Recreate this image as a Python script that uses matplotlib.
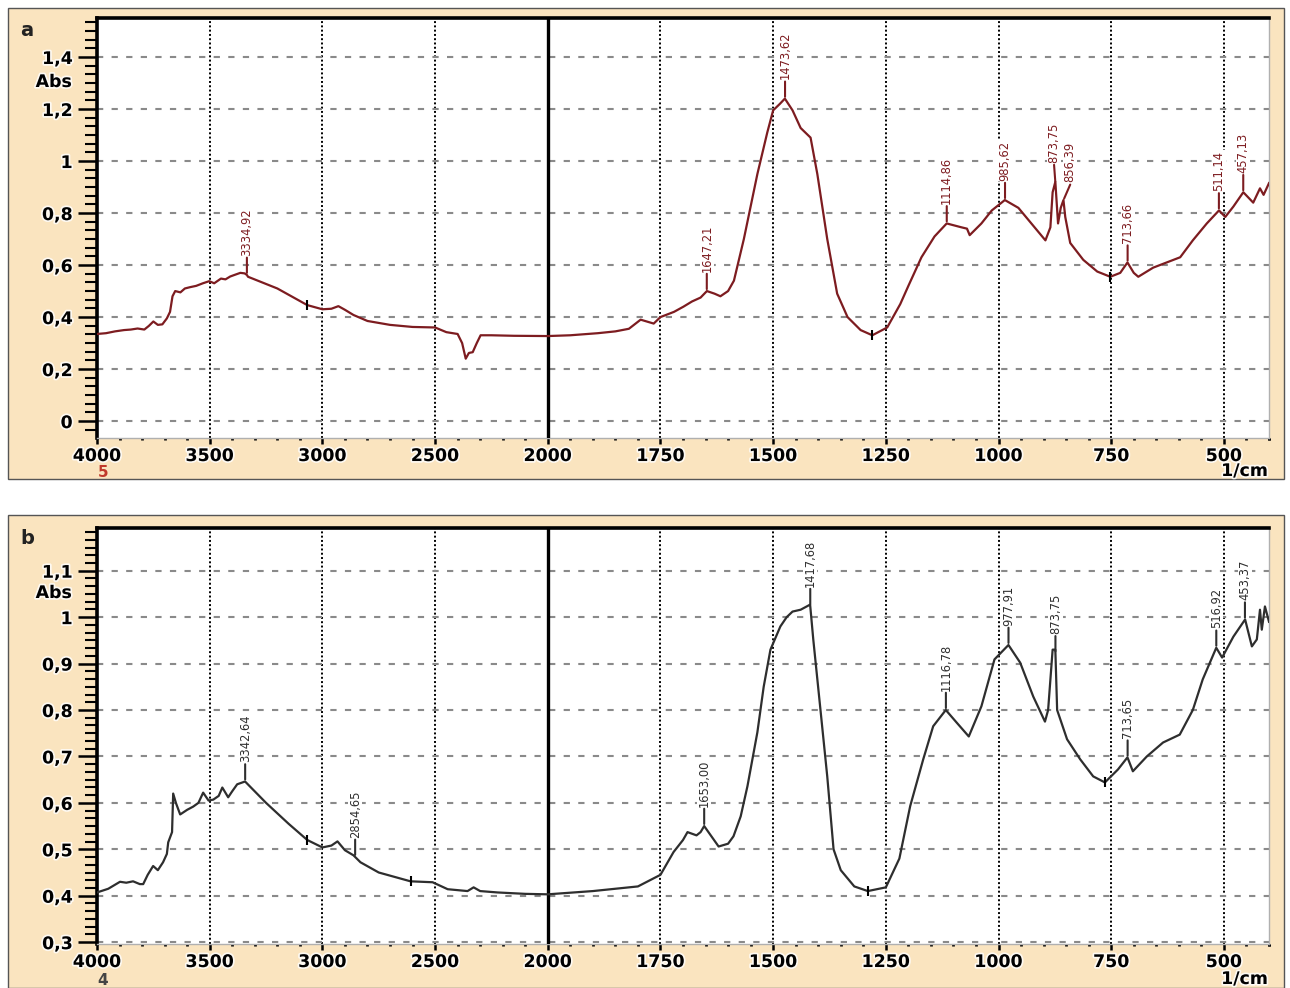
import numpy as np
import matplotlib
matplotlib.use("Agg")
import matplotlib.pyplot as plt
import matplotlib.patheffects as pe
from matplotlib.patches import Rectangle
from matplotlib.ticker import FixedLocator, MultipleLocator, FuncFormatter

# spectrum a (wavenumber 1/cm, absorbance)
wn_a = [4000, 3960, 3920, 3880, 3850, 3820, 3790, 3770, 3750, 3730, 3710, 3690,
        3676, 3665, 3653, 3630, 3610, 3587, 3560, 3530, 3502, 3480, 3450, 3430,
        3409, 3390, 3364, 3345, 3335, 3330, 3200, 3067, 3000, 2960, 2929, 2900,
        2862, 2800, 2700, 2600, 2500, 2450, 2400, 2380, 2364, 2350, 2333, 2315,
        2298, 2250, 2150, 2000, 1950, 1889, 1850, 1820, 1794, 1765, 1750, 1720,
        1699, 1680, 1661, 1647, 1630, 1617, 1600, 1587, 1565, 1535, 1513, 1500,
        1485, 1474, 1457, 1439, 1417, 1402, 1380, 1358, 1335, 1306, 1280, 1247,
        1218, 1200, 1171, 1142, 1115, 1082, 1070, 1064, 1038, 1015, 986, 956,
        920, 896, 885, 880, 874, 868, 862, 856, 852, 841, 812, 781, 752, 730,
        714, 700, 690, 657, 597, 569, 538, 511, 497, 479, 457, 435, 420, 412, 400]
abs_a = [0.335, 0.338, 0.345, 0.350, 0.352, 0.356, 0.352, 0.366, 0.383, 0.370, 0.372, 0.395,
         0.420, 0.480, 0.500, 0.495, 0.510, 0.515, 0.520, 0.530, 0.538, 0.530, 0.548, 0.545,
         0.556, 0.562, 0.570, 0.568, 0.562, 0.555, 0.510, 0.446, 0.430, 0.432, 0.442, 0.428,
         0.408, 0.385, 0.370, 0.362, 0.360, 0.342, 0.335, 0.300, 0.240, 0.262, 0.265, 0.300,
         0.330, 0.330, 0.328, 0.327, 0.330, 0.338, 0.345, 0.355, 0.390, 0.375, 0.400, 0.420,
         0.440, 0.460, 0.475, 0.500, 0.490, 0.480, 0.500, 0.540, 0.700, 0.950, 1.110, 1.195,
         1.220, 1.240, 1.195, 1.127, 1.090, 0.950, 0.700, 0.490, 0.400, 0.350, 0.330, 0.360,
         0.450, 0.520, 0.630, 0.710, 0.760, 0.745, 0.740, 0.715, 0.760, 0.810, 0.850, 0.820,
         0.745, 0.695, 0.745, 0.880, 0.920, 0.760, 0.820, 0.850, 0.785, 0.685, 0.620, 0.575,
         0.555, 0.570, 0.610, 0.570, 0.555, 0.590, 0.630, 0.695, 0.760, 0.810, 0.785, 0.825,
         0.880, 0.840, 0.895, 0.870, 0.915]
peaks_a = [3334.92, 1647.21, 1473.62, 1114.86, 985.62, 873.75, 856.39, 713.66, 511.14, 457.13]
marks_a = [3067, 1280, 752]

# spectrum b
wn_b = [4000, 3950, 3898, 3870, 3840, 3810, 3795, 3775, 3751, 3730, 3707, 3690,
        3684, 3667, 3662, 3650, 3631, 3600, 3573, 3550, 3529, 3505, 3484, 3460,
        3444, 3418, 3400, 3378, 3343, 3250, 3150, 3067, 3000, 2960, 2933, 2900,
        2862, 2831, 2750, 2609, 2511, 2444, 2356, 2329, 2300, 2222, 2100, 2000,
        1900, 1800, 1750, 1721, 1700, 1690, 1670, 1661, 1653, 1621, 1600, 1588,
        1572, 1557, 1535, 1521, 1506, 1484, 1470, 1457, 1439, 1418, 1411, 1395,
        1380, 1366, 1350, 1320, 1290, 1250, 1220, 1196, 1167, 1145, 1117, 1093,
        1066, 1038, 1009, 978, 952, 923, 897, 890, 880, 874, 870, 848, 819, 790,
        764, 735, 714, 702, 671, 635, 598, 569, 547, 517, 504, 479, 453, 438,
        427, 420, 416, 409, 400]
abs_b = [0.407, 0.415, 0.430, 0.428, 0.431, 0.425, 0.425, 0.445, 0.464, 0.455, 0.472, 0.490,
         0.515, 0.537, 0.620, 0.600, 0.575, 0.585, 0.592, 0.600, 0.622, 0.605, 0.607, 0.615,
         0.633, 0.612, 0.625, 0.640, 0.646, 0.600, 0.555, 0.520, 0.504, 0.508, 0.517, 0.498,
         0.487, 0.472, 0.450, 0.431, 0.429, 0.414, 0.410, 0.418, 0.410, 0.407, 0.404, 0.403,
         0.410, 0.420, 0.445, 0.494, 0.520, 0.537, 0.530, 0.537, 0.550, 0.506, 0.512, 0.528,
         0.571, 0.636, 0.752, 0.850, 0.930, 0.980, 1.000, 1.012, 1.016, 1.027, 0.952, 0.800,
         0.657, 0.500, 0.455, 0.420, 0.410, 0.418, 0.480, 0.593, 0.694, 0.765, 0.800, 0.773,
         0.743, 0.808, 0.909, 0.940, 0.902, 0.829, 0.775, 0.800, 0.930, 0.930, 0.800, 0.737,
         0.694, 0.657, 0.644, 0.672, 0.698, 0.668, 0.700, 0.730, 0.747, 0.800, 0.866, 0.934,
         0.913, 0.958, 0.995, 0.937, 0.952, 1.016, 0.973, 1.023, 0.990]
peaks_b = [3342.64, 2854.65, 1653.00, 1417.68, 1116.78, 977.91, 873.75, 713.65, 516.92, 453.37]
marks_b = [3067, 2609, 1290, 764]

x_major = [4000, 3500, 3000, 2500, 2000, 1750, 1500, 1250, 1000, 750, 500]
x_minor = [w for w in range(3900, 2000, -100) if w % 500] + \
          [w for w in range(1950, 399, -50) if w % 250]

CREAM = "#fae4bf"
TICK_FONT = dict(family="DejaVu Sans", weight="bold", size=12.5)
halo = [pe.withStroke(linewidth=2.5, foreground="white", alpha=0.8)]


def fwd(w):
    # 2000-400 is drawn at twice the scale of 4000-2000
    w = np.asarray(w, float)
    return np.where(w >= 2000, w, 2000 - 2 * (2000 - w))


def inv(v):
    v = np.asarray(v, float)
    return np.where(v >= 2000, v, 2000 - (2000 - v) / 2)


def comma(v, _):
    return ("%g" % round(v, 2)).replace(".", ",")


def draw_panel(ax, wn, ab, peaks, marks, color, ylim, ymajor, peak_offsets):
    ax.set_xscale("function", functions=(fwd, inv))
    ax.set_xlim(4000, 400)
    ax.set_ylim(*ylim)

    ax.xaxis.set_major_locator(FixedLocator(x_major))
    ax.xaxis.set_minor_locator(FixedLocator(x_minor + [400]))
    ax.xaxis.set_major_formatter(FuncFormatter(lambda v, _: "%d" % round(v)))
    ax.yaxis.set_major_locator(MultipleLocator(ymajor))
    ax.yaxis.set_minor_locator(MultipleLocator(ymajor / 6))
    ax.yaxis.set_major_formatter(FuncFormatter(comma))

    ax.tick_params(axis="y", which="major", length=14, width=1.8, pad=3.5, color="k")
    ax.tick_params(axis="y", which="minor", length=8.5, width=1.5, color="k")
    ax.tick_params(axis="x", which="major", length=4.5, width=1.8, pad=2, color="k")
    ax.tick_params(axis="x", which="minor", length=1.6, width=2.0, color="k")
    for lab in ax.get_xticklabels() + ax.get_yticklabels():
        lab.set_fontproperties(TICK_FONT)
        lab.set_path_effects(halo)

    ax.xaxis.grid(True, which="major", color="k", linestyle=(0, (1, 1.2)), lw=1.4)
    ax.yaxis.grid(True, which="major", color="#8a8a8a", linestyle=(0, (3, 4)), lw=1.5)
    ax.axvline(2000, color="k", lw=2.4, zorder=3)

    for side in ("left", "top"):
        ax.spines[side].set_linewidth(2.6)
        ax.spines[side].set_color("k")
    for side in ("bottom", "right"):
        ax.spines[side].set_linewidth(1.0)
        ax.spines[side].set_color("#b0b0b0")

    ax.plot(wn, ab, color=color, lw=1.6, zorder=4, solid_joinstyle="round")

    w_inc, a_inc = np.array(wn)[::-1], np.array(ab)[::-1]
    for w in marks:
        ax.plot([w], [np.interp(w, w_inc, a_inc)], marker="|", ms=7, mew=1.5,
                color="k", zorder=5)
    # peak labels, each with a short leader from the curve
    for w in peaks:
        a = np.interp(w, w_inc, a_inc)
        dx, dy = peak_offsets.get(w, (0, 14))
        ax.annotate("", xy=(w, a), xytext=(dx, dy - 1.5), textcoords="offset points",
                    zorder=6, arrowprops=dict(arrowstyle="-", color=color, lw=1.5,
                                              shrinkA=0, shrinkB=1.5))
        ax.annotate(("%.2f" % w).replace(".", ","), xy=(w, a), xytext=(dx, dy),
                    textcoords="offset points", rotation=90, ha="center", va="bottom",
                    fontsize=8.3, family="DejaVu Sans", color=color, zorder=6,
                    bbox=dict(boxstyle="square,pad=0.05", fc="white", ec="none"))


fig = plt.figure(figsize=(12.9, 9.88), dpi=100)
W, H = 1290.0, 988.0

# cream frames behind each spectrum
fig.patches.append(Rectangle((8 / W, 1 - 479 / H), 1276 / W, 471 / H, transform=fig.transFigure,
                             facecolor=CREAM, edgecolor="#555555", lw=1.0, zorder=-10))
fig.patches.append(Rectangle((8 / W, 1 - 988 / H), 1276 / W, 473 / H, transform=fig.transFigure,
                             facecolor=CREAM, edgecolor="#555555", lw=1.0, zorder=-10))

ax_a = fig.add_axes([97 / W, 1 - 438 / H, 1172 / W, 420 / H])
ax_b = fig.add_axes([97 / W, 1 - 944 / H, 1172 / W, 416 / H])

draw_panel(ax_a, wn_a, abs_a, peaks_a, marks_a, "#7d1c20", (-0.065, 1.55), 0.2,
           {873.75: (-1, 15), 856.39: (5, 13)})
draw_panel(ax_b, wn_b, abs_b, peaks_b, marks_b, "#2e2e2e", (0.296, 1.192), 0.1, {})

# panel letters, axis captions and run numbers
for top, letter, run, run_col in ((30, "a", "5", "#c0392b"), (538, "b", "4", "#444444")):
    fig.text(20 / W, 1 - top / H, letter, fontsize=14, weight="bold", family="DejaVu Sans",
             ha="left", va="center", color="#222222")
    fig.text(103 / W, 1 - (top + 442) / H, run, fontsize=11, weight="bold",
             family="DejaVu Sans", ha="center", va="center", color=run_col)
    fig.text(1268 / W, 1 - (top + 441) / H, "1/cm", ha="right", va="center",
             path_effects=halo, **TICK_FONT)

fig.text(72 / W, 1 - 82 / H, "Abs", ha="right", va="center", path_effects=halo, **TICK_FONT)
fig.text(72 / W, 1 - 593 / H, "Abs", ha="right", va="center", path_effects=halo, **TICK_FONT)

fig.savefig("out.png", dpi=100, facecolor="white")
